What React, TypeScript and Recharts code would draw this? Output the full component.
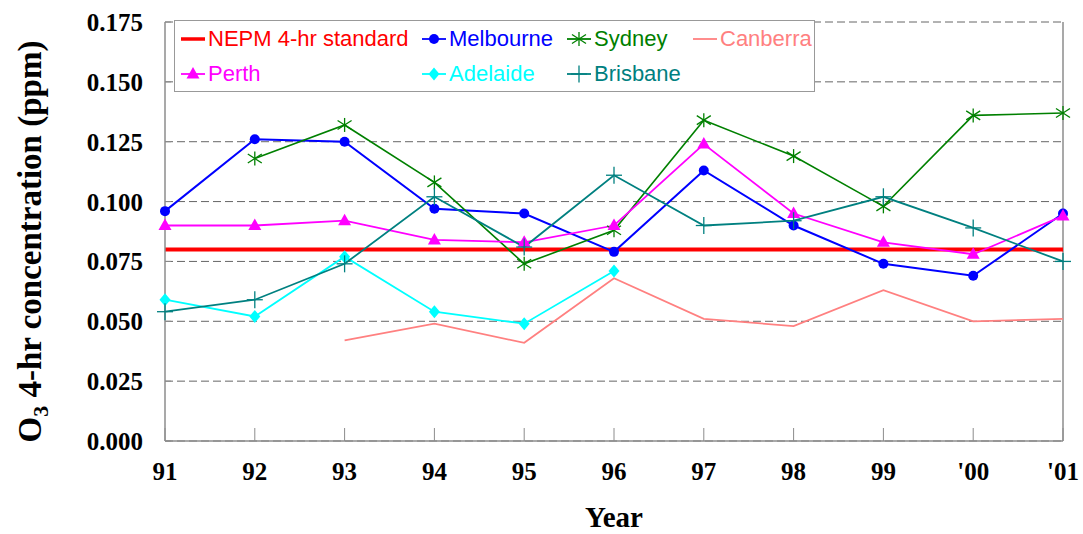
import React from 'react';
import { LineChart, Line, XAxis, YAxis, CartesianGrid, ReferenceLine } from 'recharts';

const years = ['91', '92', '93', '94', '95', '96', '97', '98', '99', "'00", "'01"];
const yTicks = [0, 0.025, 0.05, 0.075, 0.1, 0.125, 0.15, 0.175];

const nepm = [0.08, 0.08, 0.08, 0.08, 0.08, 0.08, 0.08, 0.08, 0.08, 0.08, 0.08];
const melbourne = [0.096, 0.126, 0.125, 0.097, 0.095, 0.079, 0.113, 0.09, 0.074, 0.069, 0.095];
const sydney = [null, 0.118, 0.132, 0.108, 0.074, 0.088, 0.134, 0.119, 0.098, 0.136, 0.137];
const canberra = [null, null, 0.042, 0.049, 0.041, 0.068, 0.051, 0.048, 0.063, 0.05, 0.051];
const perth = [0.09, 0.09, 0.092, 0.084, 0.083, 0.09, 0.124, 0.095, 0.083, 0.078, 0.094];
const adelaide = [0.059, 0.052, 0.077, 0.054, 0.049, 0.071, null, null, null, null, null];
const brisbane = [0.054, 0.059, 0.074, 0.102, 0.081, 0.111, 0.09, 0.092, 0.102, 0.089, 0.075];

type MarkerKind = 'none' | 'circle' | 'star' | 'triangle' | 'diamond' | 'plus';

interface SeriesDef {
  key: string;
  name: string;
  color: string;
  marker: MarkerKind;
  width: number;
  col: number;
  row: number;
}

const series: SeriesDef[] = [
  { key: 'nepm', name: 'NEPM 4-hr standard', color: '#ff0000', marker: 'none', width: 4, col: 0, row: 0 },
  { key: 'melbourne', name: 'Melbourne', color: '#0000ff', marker: 'circle', width: 2, col: 1, row: 0 },
  { key: 'sydney', name: 'Sydney', color: '#008000', marker: 'star', width: 1.6, col: 2, row: 0 },
  { key: 'canberra', name: 'Canberra', color: '#ff8080', marker: 'none', width: 1.8, col: 3, row: 0 },
  { key: 'perth', name: 'Perth', color: '#ff00ff', marker: 'triangle', width: 1.8, col: 0, row: 1 },
  { key: 'adelaide', name: 'Adelaide', color: '#00ffff', marker: 'diamond', width: 1.8, col: 1, row: 1 },
  { key: 'brisbane', name: 'Brisbane', color: '#008080', marker: 'plus', width: 1.8, col: 2, row: 1 },
];

const data = years.map((year, i) => ({
  year,
  nepm: nepm[i],
  melbourne: melbourne[i],
  sydney: sydney[i],
  canberra: canberra[i],
  perth: perth[i],
  adelaide: adelaide[i],
  brisbane: brisbane[i],
}));

const serif = '"Liberation Serif", "Times New Roman", serif';
const sans = '"Liberation Sans", Arial, sans-serif';
const axisGrey = '#8c8c8c';

function Marker({ kind, cx, cy, color }: { kind: MarkerKind; cx: number; cy: number; color: string }) {
  switch (kind) {
    case 'circle':
      return <circle cx={cx} cy={cy} r={5} fill={color} />;
    case 'triangle':
      return <polygon points={`${cx},${cy - 7} ${cx - 6.5},${cy + 4.5} ${cx + 6.5},${cy + 4.5}`} fill={color} />;
    case 'diamond':
      return <polygon points={`${cx},${cy - 6.5} ${cx + 5.5},${cy} ${cx},${cy + 6.5} ${cx - 5.5},${cy}`} fill={color} />;
    case 'star':
      return (
        <g stroke={color} strokeWidth={1.3}>
          <line x1={cx} y1={cy - 7} x2={cx} y2={cy + 7} />
          <line x1={cx - 7} y1={cy - 4.5} x2={cx + 7} y2={cy + 4.5} />
          <line x1={cx - 7} y1={cy + 4.5} x2={cx + 7} y2={cy - 4.5} />
        </g>
      );
    case 'plus':
      return (
        <g stroke={color} strokeWidth={1.3}>
          <line x1={cx} y1={cy - 8.5} x2={cx} y2={cy + 8.5} />
          <line x1={cx - 8} y1={cy} x2={cx + 8} y2={cy} />
        </g>
      );
    default:
      return null;
  }
}

function makeDot(s: SeriesDef) {
  if (s.marker === 'none') return false;
  return (props: any) => {
    const { cx, cy, index } = props;
    if (cx == null || cy == null || props.value == null) return <g key={`${s.key}-${index}`} />;
    return (
      <g key={`${s.key}-${index}`}>
        <Marker kind={s.marker} cx={cx} cy={cy} color={s.color} />
      </g>
    );
  };
}

function XTick(props: any) {
  const { x, y, payload } = props;
  return (
    <g>
      <line x1={x} y1={y - 13} x2={x} y2={y} stroke={axisGrey} strokeWidth={1} />
      <text x={x} y={y + 39} textAnchor="middle" fontFamily={serif} fontWeight="bold" fontSize={25} fill="#000">
        {payload.value}
      </text>
    </g>
  );
}

function YTick(props: any) {
  const { x, y, payload } = props;
  return (
    <g>
      <line x1={x} y1={y} x2={x + 6} y2={y} stroke={axisGrey} strokeWidth={1} />
      <text x={x - 22} y={y + 9} textAnchor="end" fontFamily={serif} fontWeight="bold" fontSize={25} fill="#000">
        {payload.value.toFixed(3)}
      </text>
    </g>
  );
}

function YLabel(props: any) {
  const vb = props.viewBox || { y: 22, height: 419 };
  const cx = 41;
  const cy = vb.y + vb.height / 2 + 10;
  return (
    <text
      x={cx}
      y={cy}
      transform={`rotate(-90 ${cx} ${cy})`}
      textAnchor="middle"
      fontFamily={serif}
      fontWeight="bold"
      fontSize={33}
      fill="#000"
    >
      O<tspan dy={7} fontSize={22}>3</tspan>
      <tspan dy={-7}> 4-hr concentration (ppm)</tspan>
    </text>
  );
}

function XLabel(props: any) {
  const vb = props.viewBox || { x: 165, width: 898, y: 441 };
  return (
    <text x={vb.x + vb.width / 2} y={527} textAnchor="middle" fontFamily={serif} fontWeight="bold" fontSize={29} fill="#000">
      Year
    </text>
  );
}

const legendCols = [6, 247, 392, 518];
const legendRows = [18, 53];

function LegendBox() {
  return (
    <div
      style={{
        position: 'absolute',
        left: 174,
        top: 20,
        width: 641,
        height: 72,
        background: '#fff',
        border: '1.5px solid #999',
        boxSizing: 'border-box',
        fontFamily: sans,
        fontSize: 22,
      }}
    >
      {series.map((s) => (
        <div
          key={s.key}
          style={{
            position: 'absolute',
            left: legendCols[s.col],
            top: legendRows[s.row] - 13,
            height: 26,
            display: 'flex',
            alignItems: 'center',
            whiteSpace: 'nowrap',
            color: s.color,
          }}
        >
          <svg width={24} height={26} style={{ marginRight: 3 }}>
            <line x1={0} y1={13} x2={24} y2={13} stroke={s.color} strokeWidth={s.key === 'nepm' ? 3.5 : 1.8} />
            <Marker kind={s.marker} cx={12} cy={13} color={s.color} />
          </svg>
          <span style={{ lineHeight: '26px' }}>{s.name}</span>
        </div>
      ))}
    </div>
  );
}

export default function App() {
  return (
    <div style={{ position: 'absolute', left: 0, top: 0, width: 1083, height: 534, background: '#fff' }}>
      <LineChart width={1083} height={534} data={data} margin={{ top: 22, right: 20, left: 0, bottom: 0 }}>
        <CartesianGrid vertical={false} stroke="#666" strokeDasharray="8 4" strokeWidth={1} />
        <XAxis
          dataKey="year"
          height={93}
          interval={0}
          tickSize={0}
          tickMargin={0}
          tickLine={false}
          axisLine={{ stroke: axisGrey, strokeWidth: 1.5 }}
          tick={<XTick />}
          label={{ content: XLabel }}
        />
        <YAxis
          width={165}
          domain={[0, 0.175]}
          ticks={yTicks}
          interval={0}
          tickSize={0}
          tickMargin={0}
          tickLine={false}
          axisLine={{ stroke: axisGrey, strokeWidth: 1.5 }}
          tick={<YTick />}
          label={{ content: YLabel }}
        />
        <ReferenceLine x="'01" stroke={axisGrey} strokeWidth={1.5} />
        {series.map((s) => (
          <Line
            key={s.key}
            type="linear"
            dataKey={s.key}
            name={s.name}
            stroke={s.color}
            strokeWidth={s.width}
            dot={makeDot(s)}
            activeDot={false}
            isAnimationActive={false}
          />
        ))}
      </LineChart>
      <LegendBox />
    </div>
  );
}
